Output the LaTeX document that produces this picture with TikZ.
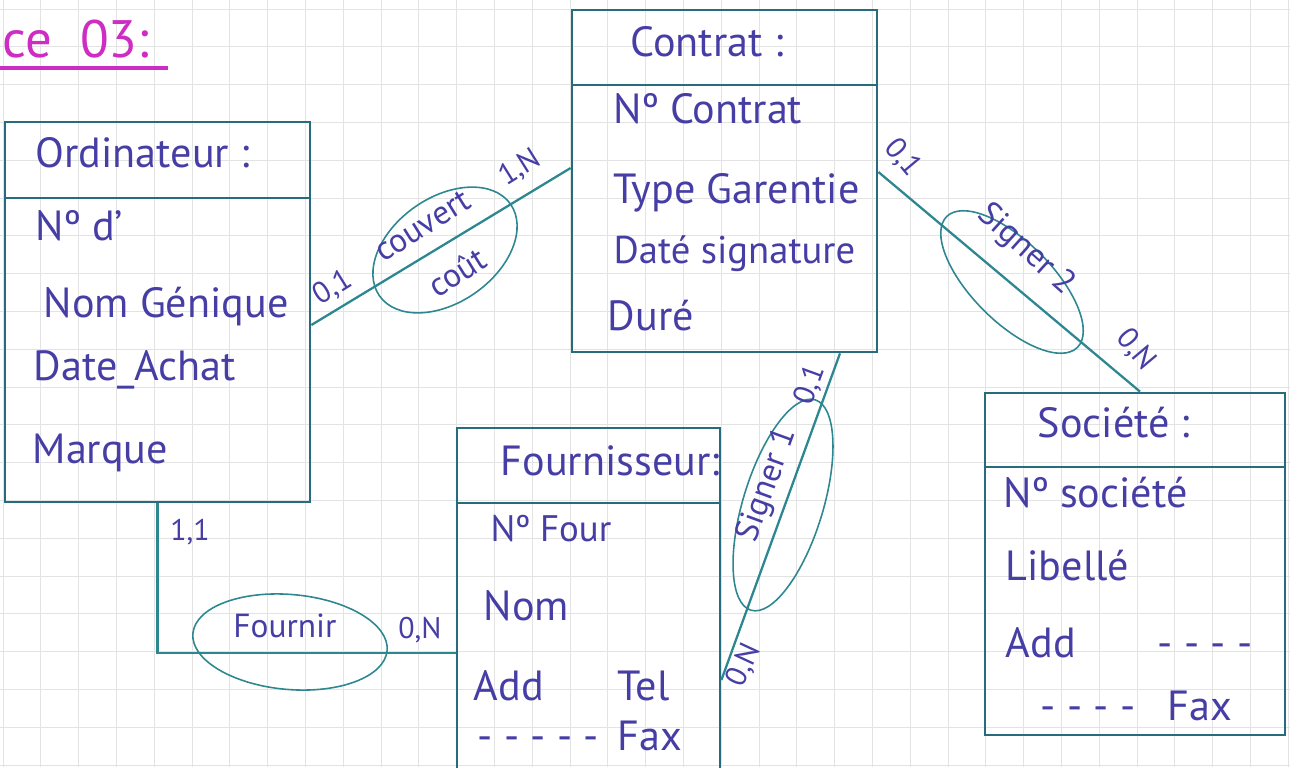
\documentclass[tikz,border=0pt]{standalone}
\usepackage{fontspec}
\setmainfont{PT Sans}
\usepackage{xcolor}
\usetikzlibrary{positioning, shapes.geometric}

\definecolor{encre}{RGB}{70,62,165}
\definecolor{cadre}{RGB}{38,108,125}
\definecolor{trait}{RGB}{45,135,145}
\definecolor{rose}{RGB}{205,45,195}

\begin{document}
\begin{tikzpicture}[x=0.02cm, y=-0.02cm, thick,
    grille/.style={draw=gray!22, line width=0.5pt},
    entite/.style={draw=cadre, line width=1.6pt, inner sep=0pt},
    attr/.style={text=encre, anchor=base west, inner sep=0pt, font=\fontsize{24}{28}\selectfont},
    assoc/.style={ellipse, draw=trait, line width=0.9pt, inner sep=0pt},
    lien/.style={draw=trait, line width=1.3pt},
    card/.style={text=encre, inner sep=0pt, font=\fontsize{17}{20}\selectfont},
    nomrel/.style={text=encre, inner sep=0pt, font=\fontsize{19}{22}\selectfont}]
    \useasboundingbox (0,0) rectangle (1290,767);

    % Papier quadrille
    \foreach \i in {0,...,34}
        \draw[grille] (3+37.8*\i,0) -- (3+37.8*\i,767);
    \foreach \j in {0,...,20}
        \draw[grille] (0,9+37.8*\j) -- (1290,9+37.8*\j);

    % Titre
    \node[text=rose, anchor=base west, inner sep=0pt, font=\fontsize{30}{34}\selectfont] (titre) at (2,58) {ce\ \ 03:};
    \draw[rose, line width=1.8pt] (0,68) -- (168,68);

    % Entites
    \node[entite, minimum width=6.1cm, minimum height=7.6cm] (ordi) at (157.5,312) {};
    \draw[cadre, line width=1.6pt] (ordi.west |- 0,198) -- (ordi.east |- 0,198);
    \node[attr] (ordi-t) at (35,167) {Ordinateur :};
    \node[attr] (ordi-a1) at (35,240) {Nº d'};
    \node[attr] (ordi-a2) at (43,317) {Nom Génique};
    \node[attr] (ordi-a3) at (33,380) {Date\_Achat};
    \node[attr] (ordi-a4) at (32,463) {Marque};

    \node[entite, minimum width=6.1cm, minimum height=6.84cm] (contrat) at (724.5,181) {};
    \draw[cadre, line width=1.6pt] (contrat.west |- 0,85) -- (contrat.east |- 0,85);
    \node[attr] (contrat-t) at (630,57) {Contrat :};
    \node[attr] (contrat-a1) at (613,123) {Nº Contrat};
    \node[attr] (contrat-a2) at (613,203) {Type Garentie};
    \node[attr, font=\fontsize{22}{26}\selectfont] (contrat-a3) at (613,263) {Daté signature};
    \node[attr] (contrat-a4) at (607,330) {Duré};

    \node[entite, minimum width=6cm, minimum height=6.84cm] (societe) at (1135,564) {};
    \draw[cadre, line width=1.6pt] (societe.west |- 0,467) -- (societe.east |- 0,467);
    \node[attr] (societe-t) at (1037,437) {Société :};
    \node[attr] (societe-a1) at (1003,507) {Nº société};
    \node[attr] (societe-a2) at (1005,580) {Libellé};
    \node[attr] (societe-a3) at (1005,657) {Add};
    \node[attr] (societe-a4) at (1157,657) {- - - -};
    \node[attr] (societe-a5) at (1040,720) {- - - -};
    \node[attr] (societe-a6) at (1167,720) {Fax};

    \node[entite, minimum width=5.26cm, minimum height=6.94cm] (four) at (588.5,601.5) {};
    \draw[cadre, line width=1.6pt] (four.west |- 0,503) -- (four.east |- 0,503);
    \node[attr] (four-t) at (500,475) {Fournisseur:};
    \node[attr, font=\fontsize{21}{25}\selectfont] (four-a1) at (490,541) {Nº Four};
    \node[attr] (four-a2) at (483,620) {Nom};
    \node[attr] (four-a3) at (473,700) {Add};
    \node[attr] (four-a4) at (617,700) {Tel};
    \node[attr] (four-a5) at (477,750) {- - - - -};
    \node[attr] (four-a6) at (617,750) {Fax};

    % Associations
    \node[assoc, minimum width=3.2cm, minimum height=2.1cm, rotate=35] (couvrir) at (445,250) {};
    \node[nomrel, rotate=32] (couvrir-t1) at (423,226) {couvert};
    \node[nomrel, rotate=32] (couvrir-t2) at (457,272) {coût};
    \draw[lien] ([yshift=-0.26cm]ordi.east) -- ([yshift=0.26cm]contrat.west);
    \node[card, rotate=32] (c1) at (333,288) {0,1};
    \node[card, rotate=32] (c2) at (520,168) {1,N};

    \node[assoc, minimum width=3.7cm, minimum height=1.6cm, rotate=-45] (signer2) at (1012,282) {};
    \node[nomrel, rotate=-42] (signer2-t) at (1026,250) {Signer 2};
    \draw[lien] ([yshift=0.18cm]contrat.east) -- ([xshift=0.1cm]societe.north);
    \node[card, rotate=-50] (c3) at (903,158) {0,1};
    \node[card, rotate=-50] (c4) at (1136,350) {0,N};

    \node[assoc, minimum width=4.4cm, minimum height=1.6cm, rotate=73] (signer1) at (783,505) {};
    \node[nomrel, rotate=70] (signer1-t) at (768,485) {Signer 1};
    \draw[lien] ([xshift=2.31cm]contrat.south) -- ([yshift=-1.57cm]four.east);
    \node[card, rotate=70] (c5) at (810,385) {0,1};
    \node[card, rotate=65] (c6) at (744,665) {0,N};

    \node[assoc, minimum width=3.9cm, minimum height=1.9cm, rotate=-5] (fournir) at (290,642) {};
    \node[nomrel] (fournir-t) at (285,626) {Fournir};
    \draw[lien] (ordi.south) |- ([yshift=-1.03cm]four.west);
    \node[card] (c7) at (190,532) {1,1};
    \node[card] (c8) at (420,630) {0,N};
\end{tikzpicture}
\end{document}
